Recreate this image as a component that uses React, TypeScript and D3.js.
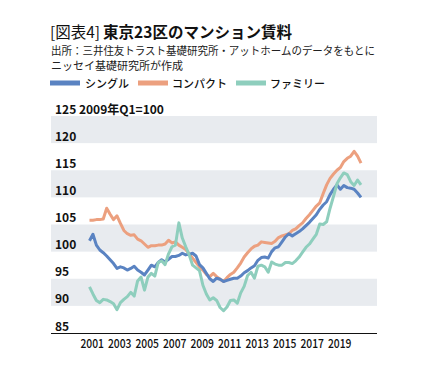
import React from 'react';
import * as d3 from 'd3';

// 2001Q1 .. 2020Q4, 2009Q1 = 100
const singleData = [
  102.0, 103.2, 101.2, 100.3, 99.8, 99.2, 98.5, 97.8, 96.9, 97.2,
  97.0, 96.6, 96.9, 97.3, 96.6, 96.2, 95.7, 96.6, 97.5, 97.2,
  98.0, 98.5, 98.1, 98.6, 99.1, 99.1, 99.3, 99.7, 99.4, 99.5,
  99.7, 99.2, 97.6, 97.0, 96.0, 95.0, 94.5, 95.1, 94.9, 94.5,
  94.7, 94.9, 95.1, 95.1, 95.5, 96.1, 96.5, 97.0, 97.4, 98.4,
  98.9, 99.0, 98.8, 100.0, 100.7, 100.9, 101.8, 102.7, 103.3, 102.9,
  103.3, 103.7, 104.2, 104.8, 105.4, 106.1, 106.8, 107.8, 108.6, 109.2,
  110.5, 111.5, 112.3, 111.5, 112.2, 111.8, 111.7, 111.5, 110.8, 110.0,
];
const compactData = [
  105.8, 105.8, 105.9, 105.9, 106.0, 108.0, 106.9, 105.9, 106.6, 105.2,
  103.9, 103.3, 103.0, 103.1, 102.3, 102.0, 101.4, 100.8, 101.1, 101.1,
  101.2, 101.2, 101.4, 102.1, 101.6, 101.8, 101.2, 100.8, 100.4, 99.6,
  98.8, 98.0, 97.2, 96.6, 95.8, 95.4, 96.0, 95.4, 94.9, 94.5,
  95.2, 95.8, 96.2, 97.0, 97.9, 99.0, 99.8, 100.5, 101.0, 101.2,
  101.8, 101.7, 101.6, 101.5, 101.9, 102.6, 102.9, 103.1, 103.3, 103.9,
  104.2, 104.8, 105.3, 106.1, 106.8, 107.6, 108.4, 109.0, 110.7, 112.3,
  113.5, 114.3, 115.0, 115.5, 116.6, 117.2, 117.6, 118.5, 117.6, 116.3,
];
const familyData = [
  93.5, 92.2, 91.0, 90.6, 91.2, 91.1, 90.8, 90.4, 89.3, 90.6,
  91.2, 91.7, 92.5, 91.8, 94.6, 95.3, 92.9, 95.3, 96.0, 95.5,
  98.0, 98.3, 97.6, 99.6, 100.9, 101.2, 105.3, 102.5, 100.9, 99.4,
  97.5, 97.0, 96.5, 93.8, 92.2, 91.1, 91.5, 91.0, 89.7, 89.1,
  89.8, 91.0, 91.1, 90.5, 92.4, 93.6, 95.6, 96.2, 95.1, 97.3,
  97.5, 97.2, 96.2, 98.1, 97.7, 97.5, 97.5, 98.0, 98.0, 97.8,
  98.3, 99.0, 99.9, 100.8, 101.4, 102.3, 103.2, 105.1, 105.0, 105.5,
  108.0, 110.2, 112.5, 113.6, 114.5, 114.2, 112.9, 112.2, 113.2, 112.3,
];

const yTicks = [85, 90, 95, 100, 105, 110, 115, 120, 125];
const yearTicks = [2001, 2003, 2005, 2007, 2009, 2011, 2013, 2015, 2017, 2019];

const series = [
  { name: 'コンパクト', color: '#eca07f', data: compactData },
  { name: 'シングル', color: '#5a83c2', data: singleData },
  { name: 'ファミリー', color: '#8ecebd', data: familyData },
];
const legend = [
  { name: 'シングル', color: '#5a83c2', x: 50, tx: 85 },
  { name: 'コンパクト', color: '#eca07f', x: 138, tx: 172 },
  { name: 'ファミリー', color: '#8ecebd', x: 236, tx: 270 },
];

const JP = "'Noto Sans CJK JP', 'Noto Sans', sans-serif";

export default function App() {
  const plotLeft = 51;
  const plotRight = 377;
  const x = d3.scaleLinear().domain([2001, 2020.75]).range([89.5, 361]);
  const y = d3.scaleLinear().domain([85, 125]).range([333, 116]);
  const line = d3
    .line<number>()
    .x((_, i) => x(2001 + i / 4))
    .y((d) => y(d));

  const bands = [125, 115, 105, 95];

  return (
    <svg
      width={425}
      height={373}
      style={{ position: 'absolute', left: 0, top: 0, background: '#fff' }}
    >
      {/* title */}
      <text x={50} y={38} fontFamily={JP} fontSize={15.5} fill="#111">
        <tspan>[図表4]</tspan>
        <tspan dx={3} fontWeight="bold">東京23区のマンション賃料</tspan>
      </text>
      <text x={51} y={55} fontFamily={JP} fontSize={11} fill="#222" textLength={324} lengthAdjust="spacingAndGlyphs">
        出所：三井住友トラスト基礎研究所・アットホームのデータをもとに
      </text>
      <text x={51} y={70} fontFamily={JP} fontSize={11} fill="#222">
        ニッセイ基礎研究所が作成
      </text>

      {/* legend */}
      {legend.map((l) => (
        <g key={l.name}>
          <rect x={l.x} y={80.5} width={30} height={5} fill={l.color} />
          <text x={l.tx} y={88} fontFamily={JP} fontSize={11} fontWeight={500} fill="#111">
            {l.name}
          </text>
        </g>
      ))}

      {/* bands */}
      {bands.map((b) => (
        <rect
          key={b}
          x={plotLeft}
          y={y(b)}
          width={plotRight - plotLeft}
          height={y(b - 5) - y(b)}
          fill="#e8ebef"
        />
      ))}

      {/* y tick labels */}
      {yTicks.map((t) => (
        <text
          key={t}
          x={55}
          y={y(t) - 2.5}
          fontFamily={JP}
          fontSize={12}
          fontWeight="bold"
          fill="#111"
        >
          {t === 125 ? '125 2009年Q1=100' : t}
        </text>
      ))}

      {/* lines */}
      {series.map((s) => (
        <path
          key={s.name}
          d={line(s.data) ?? ''}
          fill="none"
          stroke={s.color}
          strokeWidth={3}
          strokeLinejoin="round"
        />
      ))}

      {/* x axis */}
      <line x1={plotLeft} x2={plotRight} y1={333.5} y2={333.5} stroke="#111" strokeWidth={1} />
      {yearTicks.map((yr) => (
        <text
          key={yr}
          x={x(yr + 0.2)}
          y={348}
          textAnchor="middle"
          fontFamily={JP}
          fontSize={12.5}
          fontWeight={500}
          fill="#111"
          textLength={23.5}
          lengthAdjust="spacingAndGlyphs"
        >
          {yr}
        </text>
      ))}
    </svg>
  );
}
